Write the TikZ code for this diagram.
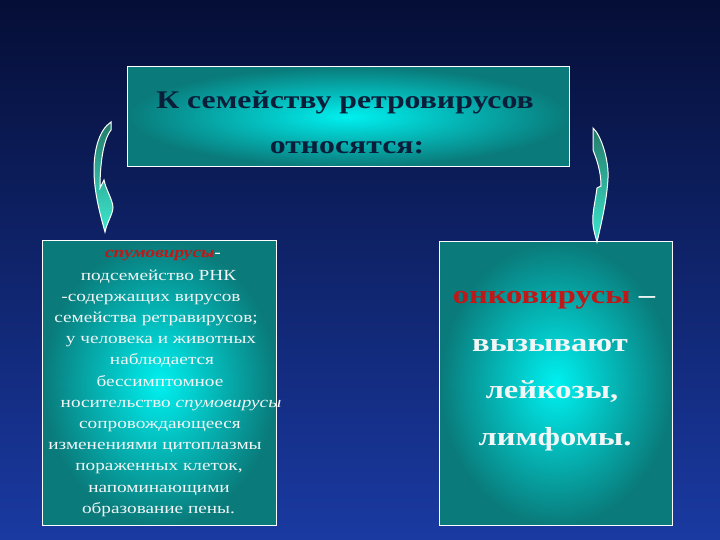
\documentclass[tikz,border=0pt]{standalone}
\usepackage{fontspec}
\setmainfont[FakeStretch=1.25]{Liberation Serif}
\definecolor{bgtop}{HTML}{050E36}
\definecolor{bgbot}{HTML}{1A3AA2}
\definecolor{boxedge}{HTML}{0A7A7A}
\definecolor{boxmid}{HTML}{00F0F0}
\definecolor{titlecol}{HTML}{0A1E3A}
\definecolor{redtxt}{HTML}{C01818}
\definecolor{wtxt}{HTML}{F2F6F6}
\definecolor{arrtop}{HTML}{247A68}
\definecolor{arrbot}{HTML}{3CE8D0}
\tikzset{
  panel/.style={draw=white, line width=1.2pt, shading=radial, inner color=boxmid, outer color=boxedge, anchor=north west, inner sep=0pt},
  ribbon/.style={draw=white, line width=1pt, top color=arrtop, bottom color=arrbot},
  ltxt/.style={anchor=base, text=wtxt, font=\fontsize{15.4}{18}\selectfont, inner sep=0pt},
  rtxt/.style={anchor=base, text=wtxt, font=\fontsize{26}{30}\selectfont\bfseries, inner sep=0pt},
  ttxt/.style={anchor=base, text=titlecol, font=\fontsize{25.4}{28}\selectfont\bfseries, inner sep=0pt}
}
\begin{document}
\begin{tikzpicture}[x=1pt,y=-1pt]
\useasboundingbox (0,0) rectangle (720,540);
\shade[top color=bgtop, bottom color=bgbot] (0,0) rectangle (720,540);
% panels
\node[panel, minimum width=442pt, minimum height=100pt] (top) at (127,66) {};
\node[panel, minimum width=234pt, minimum height=285pt] (left) at (42,240) {};
\node[panel, minimum width=233pt, minimum height=284pt] (right) at (439,241) {};
% ribbon arrows
\path[ribbon] (111,122) .. controls (99,130) and (94,150) .. (94,170)
  .. controls (94,192) and (100,214) .. (105,232)
  .. controls (107,222) and (113,214) .. (113,207)
  .. controls (112,198) and (106,190) .. (104,180)
  -- (100,188)
  .. controls (100,165) and (103,140) .. (111,130) -- cycle;
\path[ribbon] (593,128) .. controls (601,135) and (609,160) .. (608,178)
  .. controls (607,200) and (601,225) .. (597,242)
  .. controls (594,232) and (592,224) .. (593,215)
  .. controls (594,205) and (596,196) .. (597,188)
  -- (601,186)
  .. controls (601,172) and (597,160) .. (593,150) -- cycle;
% title
\node[ttxt] (t1) at (345,109) {К семейству ретровирусов};
\node[ttxt] (t2) at (347,154) {относятся:};
% left text
\node[ltxt, text=redtxt, font=\fontsize{15.4}{18}\selectfont\bfseries\itshape] (l0) at (163,257) {спумовирусы\textcolor{wtxt}{\upshape -}};
\node[ltxt] (l1) at (158.5,280) {подсемейство РНК};
\node[ltxt] (l2) at (151,301.2) {-содержащих вирусов};
\node[ltxt] (l3) at (156,322.4) {семейства ретравирусов;};
\node[ltxt] (l4) at (161,343.6) {у человека и животных};
\node[ltxt] (l5) at (162,364.8) {наблюдается};
\node[ltxt] (l6) at (160,386) {бессимптомное};
\node[ltxt] (l7) at (171,407.2) {носительство \textit{спумовирусы}};
\node[ltxt] (l8) at (160,428.4) {сопровождающееся};
\node[ltxt] (l9) at (155,449.6) {изменениями цитоплазмы};
\node[ltxt] (l10) at (159,470.8) {пораженных клеток,};
\node[ltxt] (l11) at (159,492) {напоминающими};
\node[ltxt] (l12) at (158.5,513.2) {образование пены.};
% right text
\node[rtxt] (r1) at (554,303) {\textcolor{redtxt}{онковирусы} –};
\node[rtxt] (r2) at (550,351.7) {вызывают};
\node[rtxt] (r3) at (552,398) {лейкозы,};
\node[rtxt] (r4) at (555,445) {лимфомы.};
\end{tikzpicture}
\end{document}
